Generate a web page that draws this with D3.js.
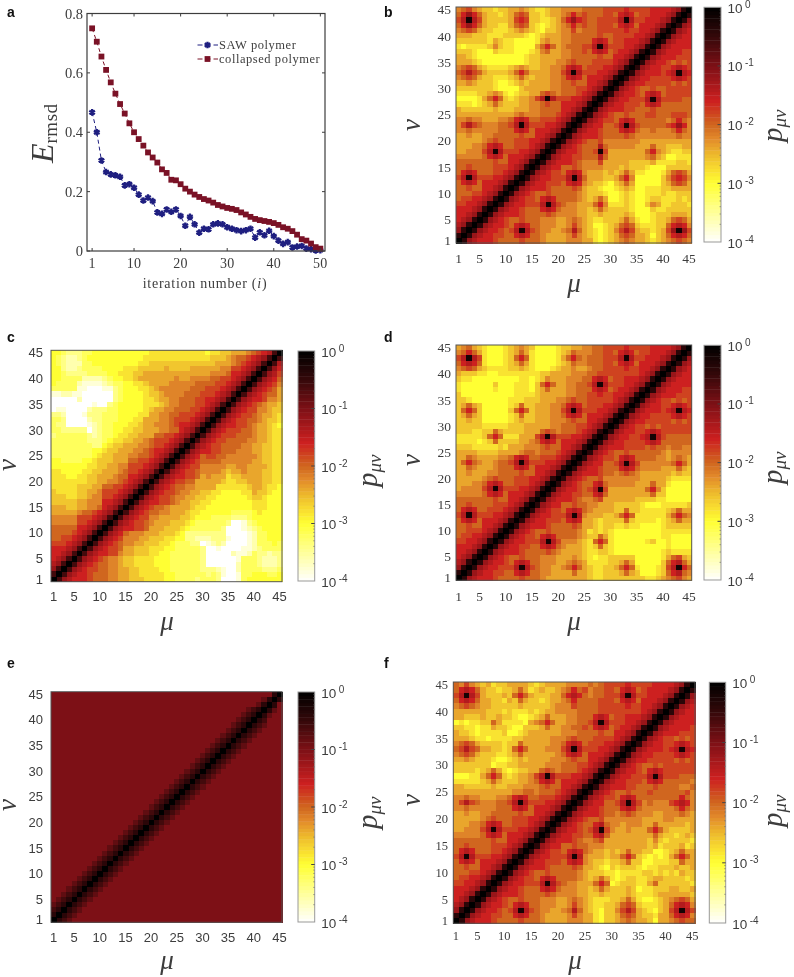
<!DOCTYPE html>
<html><head><meta charset="utf-8">
<script src="https://cdn.jsdelivr.net/npm/d3@7"></script>
<style>html,body{margin:0;padding:0;background:#fff}svg{display:block;filter:blur(0.45px)}</style>
</head><body><svg id="c" width="794" height="977"></svg>
<script>
const iterations = d3.range(1, 51);
const sawValues = [.467,.40,.305,.266,.258,.255,.25,.221,.225,.213,.19,.17,.18,.168,.13,.125,.14,.132,.14,.118,.085,.115,.09,.062,.075,.073,.09,.093,.09,.08,.075,.07,.067,.07,.075,.045,.063,.053,.068,.05,.035,.024,.03,.012,.015,.017,.008,.006,.002,.003];
const collapsedValues = [.75,.705,.655,.61,.568,.53,.495,.463,.43,.40,.377,.355,.332,.315,.298,.275,.263,.24,.238,.225,.21,.2,.19,.182,.175,.17,.163,.155,.15,.145,.142,.138,.13,.123,.115,.108,.104,.101,.098,.094,.088,.08,.075,.067,.055,.04,.035,.025,.013,.008];
const xTicksA = [1,10,20,30,40,50];
const yTicksA = [0,0.2,0.4,0.6,0.8];
const legendNames = ["SAW polymer","collapsed polymer"];
const indexTicks = [1,5,10,15,20,25,30,35,40,45];
const colorTicks = [-4,-3,-2,-1,0];
// Each string is one row nu=45..1, one character per mu=1..nu; matrix is symmetric.
// Each character indexes levelLogs, the estimated log10(p) read against the colour bar.
const levelCodes = "0123456789abcdefghijk";
const levelLogs = [-4,-3.8,-3.6,-3.4,-3.2,-3,-2.8,-2.6,-2.4,-2.2,-2,-1.8,-1.6,-1.4,-1.2,-1,-0.8,-0.6,-0.4,-0.2,0];
const panelB = [
"9ab98 77677 88987 66788 9999a aaabb bbcbb bbccc cdeik",
"aceca 87767 8aba7 76788 9acab aaabb acdca bbccc deik",
"bdjdb 87777 8bcb7 76678 acecb aabbb bdjdb bcccd eik",
"aceca 87766 8aba7 65678 9acab aabbb acdca cccde ik",
"9aba8 77666 78987 65778 99b9a aabbb bbcbb ccdei k",
"88877 76667 77765 67888 99aaa aabaa bbbbc cdeik",
"77777 76876 65555 68988 99aaa acdca bbccc deik",
"65666 67976 65555 8aca8 9aaab bdjdb bbccd eik",
"77765 55766 65556 79a88 99aab acdca bccde ik",
"88765 55555 55567 78888 99aaa aabaa ccdei k",
"88876 55555 55567 78889 9abaa abbbb cdeik",
"9aba8 76666 78987 78899 acdca bbbcc deik",
"abdba 87777 8aca8 88899 bdjdb bbccd eik",
"9aba8 77666 78a87 88899 acdca cccde ik",
"88987 77655 67878 88899 aabaa ccdei k",
"77777 77655 55788 88899 aaabb cdeik",
"66667 78986 56778 8aba9 aaabc deik",
"55556 8aca7 67889 bdjdb bbccd eik",
"66656 78a87 77889 9abaa cccde ik",
"87777 77877 78889 9aaaa ccdei k",
"88888 88888 89a99 9aaab cdeik",
"99a99 88899 acdca abbbc deik",
"9bdba 999aa bdjdb bbccd eik",
"99a99 999aa acdca cccde ik",
"88988 99aaa aabaa ccdei k",
"88888 9abaa abbbc cdeik",
"88899 acdca abbbc deik",
"88999 bdjdb bbccd eik",
"99999 acdca cccde ik",
"aaaaa aabaa ccdei k",
"aabaa aabbb cdeik",
"acdca aabbc deik",
"bdjdb bbccd eik",
"acdca cccde ik",
"aabaa ccdei k",
"aaabb cdeik",
"abbcc deik",
"bbccd eik",
"cccde ik",
"ccdei k",
"cdeik","deik","eik","ik","k"];
const panelC = [
"55433 34455 55555 55556 66666 66666 56677 8889a bcdhk",
"54322 34555 55555 55566 66666 66666 67778 9aabc dehk",
"54322 24455 55555 55667 77777 77777 77888 9abcd ehk",
"55322 34444 55556 66777 77877 77888 88899 bbcde hk",
"55433 33444 45566 67788 88888 88888 8999a ccdeh k",
"55444 42222 34556 67888 88889 88999 9aabb cdehk",
"54444 21111 23445 56678 88899 999aa aabbc dehk",
"44444 11000 11345 55667 89999 99aaa bbbcd ehk",
"11221 10000 00345 55567 78999 9aaab bbcde hk",
"00000 20000 00345 55566 78899 aaabb ccdeh k",
"00000 00010 03455 55566 67899 aaabb cdehk",
"01100 00233 34455 55567 8899a aabbc dehk",
"33200 01333 44455 55668 899aa bbbcd ehk",
"44300 00233 44455 56688 899ab bbcde hk",
"43300 00123 44555 66788 999ab ccdeh k",
"44333 33023 44556 67788 899aa cdehk",
"34444 44323 44566 77888 aabbc dehk",
"44444 44333 45667 7889a bbbcd ehk",
"44444 44433 56778 8899a bbcde hk",
"44444 44455 67788 899ab ccdeh k",
"44444 44456 77888 99aab cdehk",
"55444 45567 77888 aabbc dehk",
"55555 55667 78899 bbbcd ehk",
"66555 56677 8889a bbcde hk",
"66655 66778 889aa ccdeh k",
"66666 66778 899ab cdehk",
"66666 77788 aabbc dehk",
"76666 77889 bbbcd ehk",
"77766 77899 bbcde hk",
"77777 88999 ccdeh k",
"88877 8899a cdehk",
"88888 9aabc dehk",
"99999 bbbcd ehk",
"99999 bbcde hk",
"aaaaa ccdeh k",
"aaaab cdehk",
"aabbc dehk",
"bbbcd ehk",
"cccde hk",
"ccdeh k",
"cdehk","dehk","ehk","hk","k"];
const panelD = [
"89a87 65556 78987 55556 77889 9aabb bbcbb bbccc cdeik",
"9aca8 65556 78a86 55556 78a99 9aabb acdca bbccc deik",
"bdjdb 65556 7aca6 55556 8aca9 aaabb bdjdb bcccd eik",
"acdca 65556 78a86 55556 78a99 aaabb acdca cccde ik",
"9aba8 76666 77876 55567 88988 9aabb bbcbb ccdei k",
"87776 65566 66666 67788 88999 aabbb bbbbb cdeik",
"76655 55555 55665 67988 8999a acdca bbccc deik",
"65555 55755 56665 7aca8 899aa bdjdb bbccd eik",
"65555 55655 56665 78a88 899aa acdca bccde ik",
"75555 55555 56666 78888 899aa bbcbb ccdei k",
"77655 55555 66677 78889 9abaa bbbbb cdeik",
"78a87 55555 67a77 88899 acdca bbbcc deik",
"7aca7 55555 7aca7 88899 bdjdb bbccd eik",
"78a87 55555 67a77 88899 acdca cccde ik",
"77877 55555 67877 88899 9abaa ccdei k",
"77777 66666 77788 88899 aaabb cdeik",
"77766 77a87 77788 8aba9 aaabc deik",
"66666 7aca6 66888 bdjdb bbccd eik",
"66665 67a77 77889 acdca cccde ik",
"77766 66676 88899 9abaa ccdei k",
"88887 77788 889aa 9aaab cdeik",
"88a98 88899 acdca abbbc deik",
"8aca9 889aa bdjdb bbccd eik",
"88a98 889aa acdca cccde ik",
"88988 899aa aabaa ccdei k",
"88888 9abaa abbbc cdeik",
"88899 acdca abbbc deik",
"89999 bdjdb bbccd eik",
"99999 acdca cccde ik",
"aaaaa aabaa ccdei k",
"aabaa aabbb cdeik",
"acdca abbbc deik",
"bdjdb bbccd eik",
"acdca cccde ik",
"aabaa ccdei k",
"aabbb cdeik",
"abbcc deik",
"bbccd eik",
"cccde ik",
"ccdei k",
"cdeik","deik","eik","ik","k"];
const panelE = [
"fffff fffff fffff fffff fffff fffff fffff fffff fffik",
"fffff fffff fffff fffff fffff fffff fffff fffff fgik",
"fffff fffff fffff fffff fffff fffff fffff fffff gik",
"fffff fffff fffff fffff fffff fffff fffff fffgh ik",
"fffff fffff fffff fffff fffff fffff fffff ffghi k",
"fffff fffff fffff fffff fffff fffff fffff fghik",
"fffff fffff fffff fffff fffff fffff fffff ghik",
"fffff fffff fffff fffff fffff fffff ffffg hik",
"fffff fffff fffff fffff fffff fffff fffgh ik",
"fffff fffff fffff fffff fffff fffff ffghi k",
"fffff fffff fffff fffff fffff fffff fghik",
"fffff fffff fffff fffff fffff fffff ghik",
"fffff fffff fffff fffff fffff ffffg hik",
"fffff fffff fffff fffff fffff fffgh ik",
"fffff fffff fffff fffff fffff ffghi k",
"fffff fffff fffff fffff fffff fghik",
"fffff fffff fffff fffff fffff ghik",
"fffff fffff fffff fffff ffffg hik",
"fffff fffff fffff fffff fffgh ik",
"fffff fffff fffff fffff ffghi k",
"fffff fffff fffff fffff fghik",
"fffff fffff fffff fffff ghik",
"fffff fffff fffff ffffg hik",
"fffff fffff fffff fffgh ik",
"fffff fffff fffff ffghi k",
"fffff fffff fffff fghik",
"fffff fffff fffff ghik",
"fffff fffff ffffg hik",
"fffff fffff fffgh ik",
"fffff fffff ffghi k",
"fffff fffff fghik",
"fffff fffff ghik",
"fffff ffffg hik",
"fffff fffgh ik",
"fffff ffghi k",
"fffff fghik",
"fffff ghik",
"ffffg hik",
"fffgh ik",
"ffghi k",
"fghik","ghik","hik","ik","k"];
const panelF = [
"a9b98 78677 88887 67888 89999 a9abb bbcbb bbccc cdeik",
"acdca 87767 78a86 78778 9acab 9aabb acdca bcccc deik",
"bdjdb 87778 7aca8 77788 acdca 9aabb bdjdb bcccd eik",
"acdca 88776 87a87 76788 9acaa aabbb acdca cccde ik",
"9aba9 88777 77877 77789 99baa aabbb bbcbb ccdei k",
"88888 87776 76667 67889 999aa aabbb bbbbb cdeik",
"88777 87787 76556 78a88 899aa acdca bbccc deik",
"56566 77a86 66658 9aca8 899aa bdjdb bbccd eik",
"77665 66877 65577 78a88 99aab acdca bccde ik",
"87765 66667 55678 88888 999aa aabaa ccdei k",
"88876 65666 67788 88899 9abaa abbbb cdeik",
"9aba8 77776 77a88 88899 acdca bbbcc deik",
"abdba 88776 7aca8 88999 bdjdb bbccd eik",
"9aba8 77766 78a88 88889 acdca cccde ik",
"88987 77655 67878 88899 9abaa ccdei k",
"77777 77566 77888 88999 aaabb cdeik",
"77776 78a86 56778 8aba9 aaabc deik",
"55566 8aca7 67889 bdjdb bbccd eik",
"66666 78a87 77889 acdca cccde ik",
"88777 77877 88899 9abaa ccdei k",
"88888 88888 899aa 9aaab cdeik",
"99a99 88899 acdca abbbc deik",
"9bdba 999aa bdjdb bbccd eik",
"99a99 999aa acdca cccde ik",
"88988 99aaa aabaa ccdei k",
"88888 9abaa abbbc cdeik",
"88899 acdca abbbc deik",
"88999 bdjdb bbccd eik",
"99999 acdca cccde ik",
"aaaaa aabaa ccdei k",
"aabaa aabbb cdeik",
"acdca aabbc deik",
"bdjdb bbccd eik",
"acdca cccde ik",
"aabaa ccdei k",
"aaabb cdeik",
"abbcc deik",
"bbccd eik",
"cccde ik",
"ccdei k",
"cdeik","deik","eik","ik","k"];

const svg = d3.select("#c");
const SERIF = "'Liberation Serif', serif", SANS = "'Liberation Sans', sans-serif";
const INK = "#3d3d3d";
const color = d3.scaleLinear()
  .domain([-4,-3.5,-3,-2.75,-2.5,-2.25,-2,-1.6,-1,-0.5,0])
  .range(["#ffffff","#ffff9a","#ffff33","#f8dc30","#edb82c","#e38c2b","#d0661f","#cd2020","#7d1016","#35080a","#000000"])
  .clamp(true);

// Panel a
(function(){
  const L=87,R=325,T=13.5,B=251;
  const x=d3.scaleLinear().domain([-0.1,51]).range([L,R]);
  const y=d3.scaleLinear().domain([0,0.8]).range([B,T]);
  const g=svg.append("g");
  const blue="#1f1f80", red="#7a1226";
  const line=d3.line().x((d,i)=>x(iterations[i])).y(d=>y(d));
  g.append("path").attr("d",line(collapsedValues)).attr("fill","none").attr("stroke",red).attr("stroke-width",1).attr("stroke-dasharray","4 3");
  g.append("path").attr("d",line(sawValues)).attr("fill","none").attr("stroke",blue).attr("stroke-width",1).attr("stroke-dasharray","4 3");
  const star=d3.symbol().type(d3.symbolAsterisk).size(30);
  g.selectAll("path.s").data(sawValues).join("path").attr("class","s").attr("d",star)
    .attr("transform",(d,i)=>`translate(${x(iterations[i])},${y(d)})`).attr("fill","none").attr("stroke",blue).attr("stroke-width",2.3);
  const sq=5.8;
  g.selectAll("rect.c").data(collapsedValues).join("rect").attr("class","c").attr("width",sq).attr("height",sq)
    .attr("x",(d,i)=>x(iterations[i])-sq/2).attr("y",d=>y(d)-sq/2).attr("fill",red);
  g.append("rect").attr("x",L).attr("y",T).attr("width",R-L).attr("height",B-T).attr("fill","none").attr("stroke",INK).attr("stroke-width",1.2);
  xTicksA.forEach(t=>{
    g.append("line").attr("x1",x(t)).attr("x2",x(t)).attr("y1",B).attr("y2",B-3).attr("stroke",INK);
    g.append("line").attr("x1",x(t)).attr("x2",x(t)).attr("y1",T).attr("y2",T+3).attr("stroke",INK);
    g.append("text").attr("x",x(t)).attr("y",268).attr("text-anchor","middle").attr("font-family",SERIF).attr("font-size",14).attr("fill",INK).attr("letter-spacing",0.3).text(t);
  });
  yTicksA.forEach(t=>{
    g.append("line").attr("x1",L).attr("x2",L+3).attr("y1",y(t)).attr("y2",y(t)).attr("stroke",INK);
    g.append("line").attr("x1",R).attr("x2",R-3).attr("y1",y(t)).attr("y2",y(t)).attr("stroke",INK);
    g.append("text").attr("x",83).attr("y",y(t)+5).attr("text-anchor","end").attr("font-family",SERIF).attr("font-size",14.5).attr("fill",INK).text(t===0?"0":t.toFixed(1));
  });
  const xl=g.append("text").attr("x",205).attr("y",287.5).attr("text-anchor","middle").attr("font-family",SERIF).attr("font-size",14).attr("fill",INK).attr("letter-spacing",0.75);
  xl.append("tspan").text("iteration number (");
  xl.append("tspan").attr("font-style","italic").text("i");
  xl.append("tspan").text(")");
  const yl=g.append("text").attr("transform","translate(53,163) rotate(-90)").attr("font-family",SERIF).attr("fill",INK);
  yl.append("tspan").attr("font-style","italic").attr("font-size",32).text("E");
  yl.append("tspan").attr("font-size",19).attr("letter-spacing",0.5).attr("dy",4).text("rmsd");
  [45,59].forEach((ly,k)=>{
    const col=k?red:blue;
    g.append("line").attr("x1",197.5).attr("x2",218).attr("y1",ly).attr("y2",ly).attr("stroke",col).attr("stroke-dasharray","5 3").attr("stroke-width",1);
    if(k) g.append("rect").attr("x",204.6).attr("y",ly-2.9).attr("width",sq).attr("height",sq).attr("fill",red);
    else g.append("path").attr("d",star).attr("transform",`translate(207.5,${ly})`).attr("fill","none").attr("stroke",blue).attr("stroke-width",2.3);
    g.append("text").attr("x",219).attr("y",ly+4).attr("font-family",SERIF).attr("font-size",12.5).attr("letter-spacing",0.55).attr("fill",INK).text(legendNames[k]);
  });
})();

function heatmap(o){
  const g=svg.append("g");
  const idx=d3.range(1,46);
  const x=d3.scaleBand().domain(idx).range([o.x0,o.x1]);
  const y=d3.scaleBand().domain(idx).range([o.y1,o.y0]);
  const cells=[];
  o.rows.forEach((r,ri)=>{
    const nu=45-ri, s=r.replace(/ /g,"");
    for(let mu=1;mu<=nu;mu++){
      const c=s[Math.min(mu-1,s.length-1)];
      const lp=levelLogs[levelCodes.indexOf(c)];
      cells.push({mu,nu,lp});
      if(mu!==nu) cells.push({mu:nu,nu:mu,lp});
    }
  });
  g.selectAll("rect").data(cells).join("rect").attr("shape-rendering","crispEdges")
    .attr("x",d=>x(d.mu)).attr("y",d=>y(d.nu)).attr("width",x.bandwidth()+0.5).attr("height",y.bandwidth()+0.5)
    .attr("fill",d=>color(d.lp));
  g.append("rect").attr("x",o.x0).attr("y",o.y0).attr("width",o.x1-o.x0).attr("height",o.y1-o.y0).attr("fill","none").attr("stroke","#555").attr("stroke-width",1);
  const ff=o.serif?SERIF:SANS, fs=o.fs;
  indexTicks.forEach(t=>{
    g.append("text").attr("x",x(t)+x.bandwidth()/2).attr("y",o.xLabelY).attr("text-anchor","middle").attr("font-family",ff).attr("font-size",fs).attr("fill",INK).text(t);
    g.append("text").attr("x",o.yLabelX).attr("y",y(t)+y.bandwidth()/2+fs*0.35).attr("text-anchor","end").attr("font-family",ff).attr("font-size",fs).attr("fill",INK).text(t);
  });
  g.append("text").attr("x",o.muX).attr("y",o.muY).attr("text-anchor","middle").attr("font-family",SERIF).attr("font-style","italic").attr("font-size",27).attr("fill",INK).text("\u03bc");
  g.append("text").attr("transform",`translate(${o.nuX},${o.nuY}) rotate(-90)`).attr("text-anchor","middle").attr("font-family",SERIF).attr("font-style","italic").attr("font-size",27).attr("fill",INK).text("\u03bd");
  // colour bar
  const cy=d3.scaleLinear().domain([-4,0]).range([o.cb1,o.cb0]);
  const steps=d3.range(0,64);
  const h=(o.cb1-o.cb0)/64;
  g.selectAll("rect.cb").data(steps).join("rect").attr("class","cb")
    .attr("x",o.cx0).attr("width",o.cx1-o.cx0).attr("y",d=>o.cb1-(d+1)*h).attr("height",h+0.4)
    .attr("fill",d=>color(-4+4*(d+0.5)/64));
  g.append("rect").attr("x",o.cx0).attr("y",o.cb0).attr("width",o.cx1-o.cx0).attr("height",o.cb1-o.cb0).attr("fill","none").attr("stroke","#999").attr("stroke-width",1);
  colorTicks.forEach(t=>{
    if(t>-4&&t<0) g.append("line").attr("x1",o.cx1-3.5).attr("x2",o.cx1).attr("y1",cy(t)).attr("y2",cy(t)).attr("stroke","#444");
    if(t<0) [2,3,4,5,6,7,8,9].forEach(m=>{
      const v=t+Math.log10(m);
      g.append("line").attr("x1",o.cx1-1.5).attr("x2",o.cx1).attr("y1",cy(v)).attr("y2",cy(v)).attr("stroke","#666").attr("stroke-width",0.6);
    });
    const tx=g.append("text").attr("x",o.cx1+6.5).attr("y",cy(t)+5.5).attr("font-family",SANS).attr("font-size",13.5).attr("fill",INK);
    tx.append("tspan").text("10");
    tx.append("tspan").attr("dx",2.5).attr("dy",-5).attr("font-size",10).text(t===0?"0":"-"+(-t));
  });
  const p=g.append("text").attr("transform",`translate(${o.pX+4},${o.pY+19}) rotate(-90)`).attr("font-family",SERIF).attr("font-style","italic").attr("fill",INK);
  p.append("tspan").attr("font-size",29).text("p");
  p.append("tspan").attr("font-size",19).attr("dy",4).text("\u03bc\u03bd");
}

heatmap({rows:panelB,serif:true,fs:13.5,x0:456,x1:691.7,y0:7,y1:243,xLabelY:263,yLabelX:451,muX:574,muY:292,nuX:420,nuY:125,cx0:704,cx1:721,cb0:7.3,cb1:242,pX:778,pY:123});
heatmap({rows:panelC,serif:false,fs:13,x0:51,x1:282,y0:350.3,y1:581.7,xLabelY:601,yLabelX:43,muX:167,muY:630,nuX:15.5,nuY:465,cx0:298,cx1:314.7,cb0:351,cb1:581,pX:373,pY:468});
heatmap({rows:panelD,serif:true,fs:13.5,x0:456,x1:691.7,y0:345,y1:580.3,xLabelY:601,yLabelX:451,muX:574,muY:630,nuX:420,nuY:460,cx0:704,cx1:721,cb0:345.3,cb1:580,pX:778,pY:465});
heatmap({rows:panelE,serif:false,fs:13,x0:51,x1:282,y0:691.7,y1:922.3,xLabelY:942,yLabelX:43,muX:167,muY:969,nuX:15.5,nuY:805,cx0:298,cx1:314.7,cb0:692,cb1:922,pX:373,pY:810});
heatmap({rows:panelF,serif:true,fs:12.5,x0:453.3,x1:695,y0:682,y1:923.3,xLabelY:940,yLabelX:448,muX:575,muY:969,nuX:420,nuY:800,cx0:709.3,cx1:725.7,cb0:682.3,cb1:923,pX:778,pY:808});

[["a",7,17],["b",384,17],["c",7,342],["d",384,342],["e",7,668],["f",384,668]].forEach(d=>{
  svg.append("text").attr("x",d[1]).attr("y",d[2]).attr("font-family",SANS).attr("font-weight","bold").attr("font-size",14).attr("fill","#111").text(d[0]);
});
</script></body></html>
